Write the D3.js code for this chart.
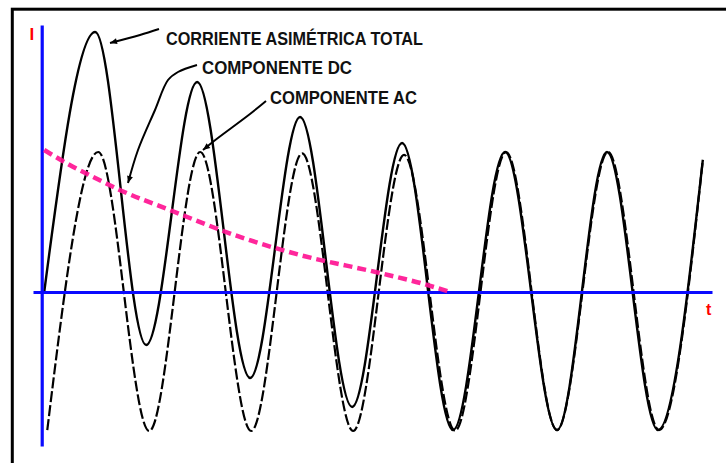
<!DOCTYPE html>
<html>
<head>
<meta charset="utf-8">
<script src="https://cdn.jsdelivr.net/npm/d3@7/dist/d3.min.js"></script>
<style>
  html, body { margin: 0; padding: 0; background: #fff; }
  svg { display: block; }
</style>
</head>
<body>
<svg id="chart" width="726" height="463"></svg>
<script>
// ---- Data (time in cycles, current in units of AC peak) ----
// DC component (decaying offset)
const dcT = [-0.03, 0.22, 0.47, 0.71, 1.20, 1.89, 2.48, 3.26, 3.66, 3.95];
const dcV = [1.014, 0.907, 0.814, 0.729, 0.586, 0.393, 0.264, 0.136, 0.064, 0.0];

// AC component extrema (troughs / peaks)
const acT = [0, 0.5, 1, 1.5, 2, 2.5, 3, 3.5, 4, 4.5, 5, 5.5, 6, 6.43];
const acV = [-0.986, 1.0, -0.993, 1.0, -0.993, 0.99, -0.993, 0.98, -0.99, 1.0, -0.986, 1.0, -0.986, 0.943];

// Total asymmetric current extrema
const totT = [-0.03, 0.47, 0.97, 1.47, 1.99, 2.48, 2.99, 3.48, 3.98, 4.49, 5.0, 5.49, 5.99, 6.43];
const totV = [0, 1.857, -0.379, 1.5, -0.614, 1.25, -0.821, 1.064, -0.986, 1.0, -0.986, 1.0, -0.986, 0.943];

const labels = ["CORRIENTE ASIMÉTRICA TOTAL", "COMPONENTE DC", "COMPONENTE AC"];
const axisLabels = ["I", "t"];

// ---- Layout ----
const svg = d3.select("#chart");
const x = d3.scaleLinear().domain([-0.14, 6.52]).range([33, 712]);
const y = d3.scaleLinear().domain([-1.1, 1.907]).range([446, 25]);

// frame
svg.append("rect")
  .attr("x", 12.3).attr("y", 9.2)
  .attr("width", 740).attr("height", 480)
  .attr("fill", "none").attr("stroke", "#000").attr("stroke-width", 3);

const line = d3.line().x(d => x(d[0])).y(d => y(d[1])).curve(d3.curveMonotoneX);
const dcData = dcT.map((t, i) => [t, dcV[i]]);
const acData = acT.map((t, i) => [t, acV[i]]);
const totData = totT.map((t, i) => [t, totV[i]]);

// total current (solid)
svg.append("path").datum(totData)
  .attr("d", line)
  .attr("fill", "none").attr("stroke", "#000").attr("stroke-width", 2.4)
  .attr("stroke-linejoin", "round");

// AC component (dashed)
svg.append("path").datum(acData)
  .attr("d", line)
  .attr("fill", "none").attr("stroke", "#000").attr("stroke-width", 2.2)
  .attr("stroke-dasharray", "11,3");

// axes (blue)
const xAxis = d3.axisBottom(x).tickValues([]).tickSizeOuter(0);
const gx = svg.append("g").attr("transform", `translate(0,${y(0)})`).call(xAxis);
const yAxis = d3.axisLeft(y).tickValues([]).tickSizeOuter(0);
const gy = svg.append("g").attr("transform", `translate(${x(-0.03) - 2.5},0)`).call(yAxis);
svg.selectAll(".domain").attr("stroke", "#0a0aff").attr("stroke-width", 3.2);

// DC component (red dashed)
svg.append("path").datum(dcData)
  .attr("d", line)
  .attr("fill", "none").attr("stroke", "#ff1493").attr("stroke-width", 4.5)
  .attr("stroke-dasharray", "9,5").attr("opacity", 0.92);

// axis labels
svg.append("text").attr("x", 29.5).attr("y", 40).text(axisLabels[0])
  .attr("font-family", "Liberation Sans, Arial, sans-serif").attr("font-weight", "bold")
  .attr("font-size", 17).attr("fill", "#ff0000");
svg.append("text").attr("x", 706).attr("y", 315).text(axisLabels[1])
  .attr("font-family", "Liberation Sans, Arial, sans-serif").attr("font-weight", "bold")
  .attr("font-size", 16).attr("fill", "#ff0000");

// annotation labels
const labelPos = [
  {x: 166, y: 45, w: 257},
  {x: 202, y: 74, w: 150},
  {x: 270, y: 104, w: 147}
];
labels.forEach((l, i) => {
  svg.append("text")
    .attr("x", labelPos[i].x).attr("y", labelPos[i].y)
    .attr("textLength", labelPos[i].w).attr("lengthAdjust", "spacingAndGlyphs")
    .attr("font-family", "Liberation Sans, Arial, sans-serif")
    .attr("font-weight", "bold").attr("font-size", 17.5)
    .attr("fill", "#111").text(l);
});

// leader lines
const leaders = [
  [[159, 29], [140, 35], [110, 43]],
  [[197, 65], [178, 72], [168, 80], [155, 110], [138, 150], [128, 183]],
  [[266, 101], [250, 114], [214, 141], [203, 150]]
];
const lp = d3.line().curve(d3.curveCatmullRom);
leaders.forEach(pts => {
  svg.append("path").attr("d", lp(pts))
    .attr("fill", "none").attr("stroke", "#000").attr("stroke-width", 2);
  // small arrow head at end
  const a = pts[pts.length - 2], b = pts[pts.length - 1];
  const ang = Math.atan2(b[1] - a[1], b[0] - a[0]);
  const L = 7, W = 3;
  const p1 = [b[0] - L * Math.cos(ang) + W * Math.sin(ang), b[1] - L * Math.sin(ang) - W * Math.cos(ang)];
  const p2 = [b[0] - L * Math.cos(ang) - W * Math.sin(ang), b[1] - L * Math.sin(ang) + W * Math.cos(ang)];
  svg.append("path").attr("d", `M${b[0]},${b[1]}L${p1[0]},${p1[1]}L${p2[0]},${p2[1]}Z`)
    .attr("fill", "#000");
});
</script>
</body>
</html>
